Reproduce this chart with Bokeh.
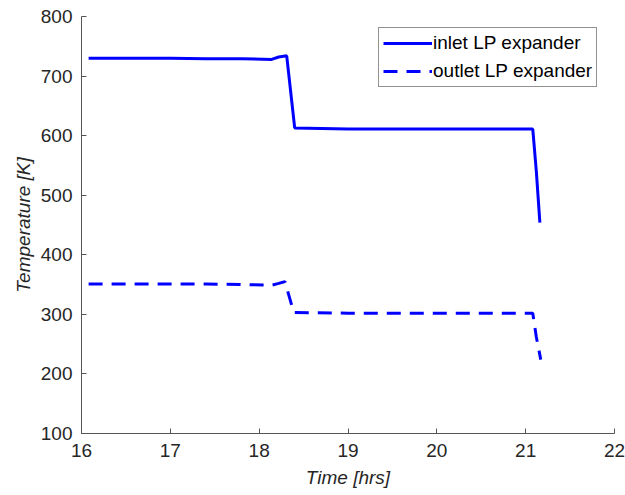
from bokeh.plotting import figure
from bokeh.models import Legend, LegendItem, Range1d, FixedTicker
from bokeh.embed import file_html
from bokeh.resources import INLINE

# ---- data ----
time_inlet = [16.08, 16.5, 17.0, 17.4, 17.8, 18.14, 18.22, 18.31, 18.40, 19.0, 20.0, 20.6, 21.08, 21.12, 21.16]
temp_inlet = [730, 730, 730, 729, 729, 728, 732, 734, 613, 611, 611, 611, 611, 540, 454]

time_outlet = [16.08, 16.5, 17.0, 17.4, 17.8, 18.14, 18.22, 18.29, 18.39, 19.0, 20.0, 20.6, 21.08, 21.12, 21.17]
temp_outlet = [351, 351, 351, 351, 350, 349, 352, 355, 303, 302, 302, 302, 302, 262, 224]

x_ticks = [16, 17, 18, 19, 20, 21, 22]
y_ticks = [100, 200, 300, 400, 500, 600, 700, 800]

FONT = "Liberation Sans"
TXT = "#262626"

p = figure(width=625, height=495, output_backend="svg", toolbar_location=None,
           x_range=Range1d(16, 22), y_range=Range1d(100, 800),
           min_border_left=81, min_border_right=11, min_border_top=16, min_border_bottom=62)
p.outline_line_color = None
p.grid.grid_line_color = None
p.background_fill_color = "white"
p.border_fill_color = "white"

r1 = p.line(time_inlet, temp_inlet, line_color="#0000FF", line_width=3)
r2 = p.line(time_outlet, temp_outlet, line_color="#0000FF", line_width=3, line_dash="14 9")

for ax in (p.xaxis[0], p.yaxis[0]):
    ax.axis_line_color = "#555555"
    ax.axis_line_width = 1
    ax.major_tick_line_color = "#555555"
    ax.major_tick_in = 5
    ax.major_tick_out = 0
    ax.minor_tick_line_color = None
    ax.major_label_text_font = FONT
    ax.major_label_text_font_size = "19px"
    ax.major_label_text_color = TXT
    ax.axis_label_text_font = FONT
    ax.axis_label_text_font_size = "19px"
    ax.axis_label_text_font_style = "italic"
    ax.axis_label_text_color = TXT

p.xaxis.ticker = FixedTicker(ticks=x_ticks)
p.yaxis.ticker = FixedTicker(ticks=y_ticks)
p.xaxis.axis_label = "Time [hrs]"
p.yaxis.axis_label = "Temperature [K]"
p.xaxis.major_label_standoff = 10
p.xaxis.axis_label_standoff = 7
p.yaxis.major_label_standoff = 9
p.yaxis.axis_label_standoff = 4

legend = Legend(items=[LegendItem(label="inlet LP expander", renderers=[r1]),
                       LegendItem(label="outlet LP expander", renderers=[r2])],
                location=(297, 346))
legend.border_line_color = "#262626"
legend.border_line_width = 1
legend.background_fill_alpha = 1
legend.label_text_font = FONT
legend.label_text_font_size = "19px"
legend.label_text_color = "black"
legend.glyph_width = 49
legend.glyph_height = 22
legend.label_height = 22
legend.label_standoff = 1
legend.padding = 4
legend.spacing = 6
legend.margin = 0
p.add_layout(legend)

open("out.html", "w").write(file_html(p, INLINE))
